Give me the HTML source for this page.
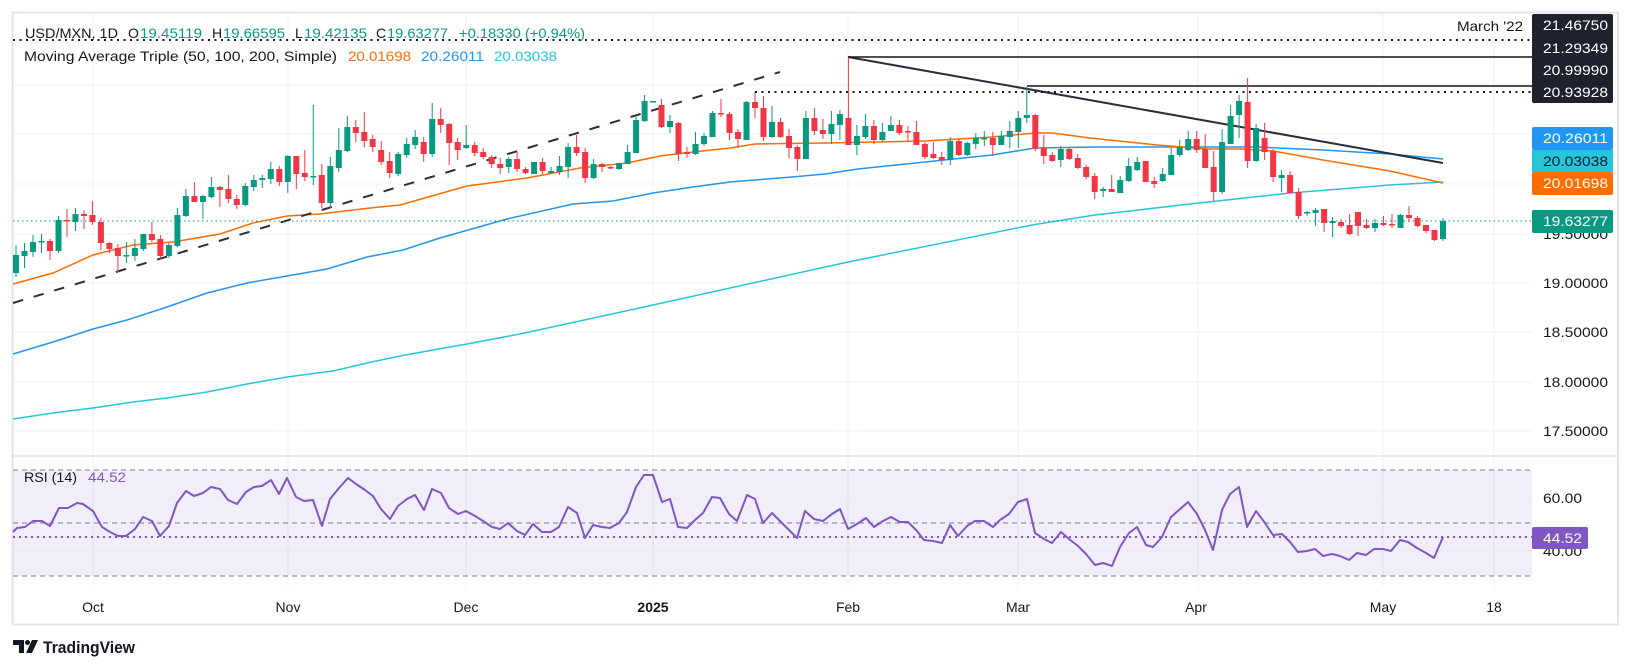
<!DOCTYPE html>
<html><head><meta charset="utf-8"><style>
html,body{margin:0;padding:0;background:#fff;}
svg{display:block;font-family:"Liberation Sans",Arial,sans-serif;}
</style></head><body>
<svg width="1631" height="671" viewBox="0 0 1631 671" xmlns="http://www.w3.org/2000/svg">
<rect x="0" y="0" width="1631" height="671" fill="#fff"/>
<!-- grid -->
<g stroke="#EEF0F4" stroke-width="1">
<line x1="93" y1="13" x2="93" y2="587"/><line x1="288" y1="13" x2="288" y2="587"/><line x1="466" y1="13" x2="466" y2="587"/><line x1="653" y1="13" x2="653" y2="587"/><line x1="848" y1="13" x2="848" y2="587"/><line x1="1018" y1="13" x2="1018" y2="587"/><line x1="1198" y1="13" x2="1198" y2="587"/><line x1="1383" y1="13" x2="1383" y2="587"/><line x1="1494" y1="13" x2="1494" y2="587"/>
<line x1="13" y1="85" x2="1532" y2="85"/><line x1="13" y1="134" x2="1532" y2="134"/><line x1="13" y1="184" x2="1532" y2="184"/><line x1="13" y1="234" x2="1532" y2="234"/><line x1="13" y1="283" x2="1532" y2="283"/><line x1="13" y1="332" x2="1532" y2="332"/><line x1="13" y1="382" x2="1532" y2="382"/><line x1="13" y1="431" x2="1532" y2="431"/>
</g>
<!-- frame -->
<rect x="12.5" y="12.5" width="1605.5" height="612" fill="none" stroke="#E3E4EA" stroke-width="2"/>
<line x1="12" y1="456" x2="1618" y2="456" stroke="#E0E3EB" stroke-width="1.5"/>

<!-- RSI pane -->
<rect x="13" y="470" width="1519" height="106" fill="#7E57C2" fill-opacity="0.1"/>
<g stroke="#EAE6F2" stroke-width="1"><line x1="13" y1="498" x2="1532" y2="498"/><line x1="13" y1="551" x2="1532" y2="551"/></g>
<g stroke="#787B86" stroke-width="1" stroke-dasharray="5 4">
<line x1="13" y1="470" x2="1532" y2="470"/><line x1="13" y1="523" x2="1532" y2="523"/><line x1="13" y1="576" x2="1532" y2="576"/>
</g>
<line x1="13" y1="537" x2="1532" y2="537" stroke="#7E57C2" stroke-width="2" stroke-dasharray="2 4"/>
<polyline fill="none" stroke="#7E57C2" stroke-width="2" stroke-linejoin="round" points="13,532 17,528 25,527 33,521 42,521 50,526 59,508 68,508 77,503 83,504 93,511 102,527 110,532 118,536 126,536 135,529 143,517 152,521 160,536 169,526 177,503 186,491 194,496 203,493 211,487 220,489 228,500 237,504 246,492 254,487 262,486 271,480 279,494 287,478 296,497 304,501 313,500 322,526 330,499 339,488 348,478 356,484 365,490 373,496 381,509 390,519 398,506 407,499 415,495 424,510 432,489 441,493 449,508 458,514 466,511 475,516 483,521 492,527 500,529 508,523 517,531 525,535 533,524 542,532 551,532 559,527 568,507 577,513 585,538 593,525 602,527 610,528 619,523 627,512 636,487 644,475 653,475 662,502 670,499 678,527 687,528 695,520 703,513 712,497 720,498 729,514 737,521 747,495 755,499 763,523 772,513 780,521 788,529 797,538 805,511 814,519 823,521 832,514 840,509 848,529 857,524 866,518 874,527 883,521 891,517 900,522 908,522 917,531 924,540 933,541 942,543 950,525 958,536 967,526 975,521 984,521 993,527 1000,520 1009,514 1018,502 1027,499 1035,533 1044,539 1052,543 1061,532 1069,539 1078,546 1086,554 1095,565 1103,563 1112,566 1120,547 1129,533 1137,527 1146,545 1153,547 1162,537 1171,517 1179,510 1188,502 1197,514 1205,530 1213,550 1222,510 1230,494 1239,487 1247,527 1256,511 1265,523 1273,535 1282,534 1290,542 1298,552 1307,551 1315,549 1323,556 1332,554 1340,556 1349,560 1357,553 1366,555 1374,549 1383,549 1391,551 1400,540 1408,542 1417,548 1426,553 1434,558 1443,537"/>
<text x="24" y="482" font-size="14" fill="#131722" textLength="53" lengthAdjust="spacingAndGlyphs">RSI (14)</text>
<text x="88" y="482" font-size="14" fill="#7E57C2" textLength="38" lengthAdjust="spacingAndGlyphs">44.52</text>

<!-- MAs -->
<polyline fill="none" stroke="#26C6DA" stroke-width="1.5" points="13,419 53,413 93,408 133,402 167,398 207,392 247,384 287,377 333,371 367,363 400,356 433,350 467,344 520,334 653,305 848,262 1032,225 1095,215 1190,204 1290,193 1390,185 1443,182"/>
<polyline fill="none" stroke="#2196F3" stroke-width="1.5" points="13,354 53,342 93,329 127,320 167,307 207,293 247,283 287,276 327,269 367,257 403,250 440,238 507,219 573,204 613,201 653,193 693,187 730,182 792,177 825,174 858,169 925,162 992,155 1035,148 1095,147 1190,147 1257,147 1323,150 1390,154 1443,159"/>
<polyline fill="none" stroke="#FF6D00" stroke-width="1.5" points="13,284 53,273 93,255 133,245 173,242 220,234 253,223 287,216 320,214 370,208 400,205 467,186 527,178 580,168 627,163 660,156 693,152 730,148 755,144 825,143 925,141 992,137 1035,133 1052,133 1090,138 1157,145 1207,149 1240,149 1273,151 1323,160 1390,171 1443,183"/>

<!-- drawings -->
<line x1="13" y1="303" x2="780" y2="72" stroke="#2A2E39" stroke-width="2" stroke-dasharray="10.5 11"/>
<line x1="848" y1="57" x2="1443" y2="163" stroke="#2A2E39" stroke-width="2"/>
<line x1="13" y1="40" x2="1532" y2="40" stroke="#131722" stroke-width="2" stroke-dasharray="2 4.5"/>
<line x1="848" y1="57" x2="1532" y2="57" stroke="#131722" stroke-width="1.5"/>
<line x1="1027" y1="86" x2="1532" y2="86" stroke="#131722" stroke-width="1.5"/>
<line x1="755" y1="92" x2="1532" y2="92" stroke="#131722" stroke-width="2" stroke-dasharray="2 4.5"/>
<line x1="13" y1="221" x2="1532" y2="221" stroke="#089981" stroke-width="1" stroke-dasharray="1.5 3"/>

<!-- green candles -->
<g fill="#089981">
<rect x="15.5" y="245" width="1" height="32"/><rect x="13" y="255" width="6" height="18"/>
<rect x="24" y="243" width="1" height="25"/><rect x="21.5" y="251" width="6" height="5"/>
<rect x="32.5" y="235" width="1" height="22"/><rect x="30" y="242" width="6" height="10"/>
<rect x="41" y="234" width="1" height="19"/><rect x="38.5" y="241" width="6" height="1.5"/>
<rect x="58" y="216" width="1" height="37"/><rect x="55.5" y="220" width="6" height="31"/>
<rect x="75" y="208" width="1" height="23"/><rect x="72.5" y="214" width="6" height="8"/>
<rect x="125.9" y="242" width="1" height="21"/><rect x="123.4" y="255" width="6" height="1.5"/>
<rect x="134.4" y="239" width="1" height="22"/><rect x="131.9" y="248" width="6" height="8"/>
<rect x="142.9" y="234" width="1" height="17"/><rect x="140.4" y="234" width="6" height="15"/>
<rect x="168.4" y="243" width="1" height="15"/><rect x="165.9" y="245" width="6" height="11"/>
<rect x="176.9" y="208" width="1" height="39"/><rect x="174.4" y="215" width="6" height="31"/>
<rect x="185.4" y="189" width="1" height="28"/><rect x="182.9" y="196" width="6" height="20"/>
<rect x="202.4" y="195" width="1" height="24"/><rect x="199.9" y="196" width="6" height="6"/>
<rect x="210.9" y="177" width="1" height="21"/><rect x="208.4" y="187" width="6" height="10"/>
<rect x="244.8" y="183" width="1" height="23"/><rect x="242.3" y="186" width="6" height="19"/>
<rect x="253.3" y="175" width="1" height="16"/><rect x="250.8" y="180" width="6" height="7"/>
<rect x="261.8" y="175" width="1" height="13"/><rect x="259.3" y="178" width="6" height="2"/>
<rect x="270.3" y="162" width="1" height="22"/><rect x="267.8" y="169" width="6" height="10"/>
<rect x="287.3" y="155" width="1" height="38"/><rect x="284.8" y="156" width="6" height="26"/>
<rect x="312.8" y="105" width="1" height="80"/><rect x="310.3" y="176" width="6" height="1.5"/>
<rect x="329.8" y="157" width="1" height="51"/><rect x="327.3" y="166" width="6" height="37"/>
<rect x="338.3" y="128" width="1" height="44"/><rect x="335.8" y="150" width="6" height="18"/>
<rect x="346.8" y="116" width="1" height="36"/><rect x="344.3" y="127" width="6" height="24"/>
<rect x="397.7" y="152" width="1" height="24"/><rect x="395.2" y="154" width="6" height="20"/>
<rect x="406.2" y="138" width="1" height="20"/><rect x="403.7" y="144" width="6" height="11"/>
<rect x="414.7" y="130" width="1" height="19"/><rect x="412.2" y="137" width="6" height="8"/>
<rect x="431.7" y="103" width="1" height="54"/><rect x="429.2" y="119" width="6" height="35"/>
<rect x="465.7" y="125" width="1" height="24"/><rect x="463.2" y="145" width="6" height="3"/>
<rect x="508.2" y="157" width="1" height="16"/><rect x="505.7" y="159" width="6" height="8"/>
<rect x="533.6" y="162" width="1" height="12"/><rect x="531.1" y="162" width="6" height="12"/>
<rect x="550.6" y="167" width="1" height="7"/><rect x="548.1" y="171" width="6" height="2"/>
<rect x="559.1" y="156" width="1" height="19"/><rect x="556.6" y="166" width="6" height="6"/>
<rect x="567.6" y="143" width="1" height="35"/><rect x="565.1" y="147" width="6" height="20"/>
<rect x="593.1" y="159" width="1" height="20"/><rect x="590.6" y="164" width="6" height="14"/>
<rect x="618.6" y="163" width="1" height="7"/><rect x="616.1" y="163" width="6" height="6"/>
<rect x="627.1" y="145" width="1" height="19"/><rect x="624.6" y="152" width="6" height="12"/>
<rect x="635.6" y="116" width="1" height="37"/><rect x="633.1" y="120" width="6" height="33"/>
<rect x="644.1" y="95" width="1" height="27"/><rect x="641.6" y="101" width="6" height="20"/>
<rect x="650.1" y="101" width="6" height="1.5"/>
<rect x="669.5" y="115" width="1" height="18"/><rect x="667" y="121" width="6" height="6"/>
<rect x="695" y="132" width="1" height="23"/><rect x="692.5" y="144" width="6" height="10"/>
<rect x="703.5" y="133" width="1" height="13"/><rect x="701" y="136" width="6" height="8"/>
<rect x="712" y="111" width="1" height="26"/><rect x="709.5" y="113" width="6" height="24"/>
<rect x="746" y="101" width="1" height="39"/><rect x="743.5" y="102" width="6" height="38"/>
<rect x="771.5" y="106" width="1" height="32"/><rect x="769" y="122" width="6" height="15"/>
<rect x="805.4" y="111" width="1" height="48"/><rect x="802.9" y="118" width="6" height="41"/>
<rect x="830.9" y="111" width="1" height="33"/><rect x="828.4" y="124" width="6" height="10"/>
<rect x="839.4" y="110" width="1" height="30"/><rect x="836.9" y="114" width="6" height="11"/>
<rect x="856.4" y="125" width="1" height="30"/><rect x="853.9" y="136" width="6" height="9"/>
<rect x="864.9" y="114" width="1" height="25"/><rect x="862.4" y="126" width="6" height="11"/>
<rect x="881.9" y="123" width="1" height="19"/><rect x="879.4" y="132" width="6" height="8"/>
<rect x="890.4" y="116" width="1" height="15"/><rect x="887.9" y="125" width="6" height="6"/>
<rect x="949.8" y="137" width="1" height="28"/><rect x="947.3" y="141" width="6" height="19"/>
<rect x="966.8" y="142" width="1" height="14"/><rect x="964.3" y="143" width="6" height="12"/>
<rect x="975.3" y="133" width="1" height="16"/><rect x="972.8" y="138" width="6" height="6"/>
<rect x="983.8" y="131" width="1" height="15"/><rect x="981.3" y="138" width="6" height="1.5"/>
<rect x="1000.8" y="131" width="1" height="14"/><rect x="998.3" y="136" width="6" height="9"/>
<rect x="1009.3" y="121" width="1" height="27"/><rect x="1006.8" y="131" width="6" height="6"/>
<rect x="1017.8" y="111" width="1" height="37"/><rect x="1015.3" y="118" width="6" height="14"/>
<rect x="1026.3" y="87" width="1" height="36"/><rect x="1023.8" y="115" width="6" height="3"/>
<rect x="1060.3" y="146" width="1" height="21"/><rect x="1057.8" y="149" width="6" height="11"/>
<rect x="1102.7" y="187" width="1" height="10"/><rect x="1100.2" y="189" width="6" height="2"/>
<rect x="1119.7" y="176" width="1" height="17"/><rect x="1117.2" y="180" width="6" height="13"/>
<rect x="1128.2" y="158" width="1" height="24"/><rect x="1125.7" y="166" width="6" height="15"/>
<rect x="1136.7" y="157" width="1" height="14"/><rect x="1134.2" y="162" width="6" height="8"/>
<rect x="1162.2" y="168" width="1" height="14"/><rect x="1159.7" y="174" width="6" height="7"/>
<rect x="1170.7" y="148" width="1" height="27"/><rect x="1168.2" y="155" width="6" height="20"/>
<rect x="1179.2" y="140" width="1" height="17"/><rect x="1176.7" y="147" width="6" height="8"/>
<rect x="1187.7" y="131" width="1" height="20"/><rect x="1185.2" y="139" width="6" height="11"/>
<rect x="1221.6" y="129" width="1" height="65"/><rect x="1219.1" y="142" width="6" height="50"/>
<rect x="1230.1" y="105" width="1" height="39"/><rect x="1227.6" y="116" width="6" height="28"/>
<rect x="1238.6" y="95" width="1" height="43"/><rect x="1236.1" y="101" width="6" height="14"/>
<rect x="1255.6" y="124" width="1" height="38"/><rect x="1253.1" y="128" width="6" height="33"/>
<rect x="1281.1" y="170" width="1" height="22"/><rect x="1278.6" y="175" width="6" height="3"/>
<rect x="1306.6" y="211" width="1" height="5"/><rect x="1304.1" y="212" width="6" height="1.5"/>
<rect x="1315.1" y="208" width="1" height="18"/><rect x="1312.6" y="210" width="6" height="3"/>
<rect x="1332.1" y="217" width="1" height="20"/><rect x="1329.6" y="221" width="6" height="2"/>
<rect x="1374.5" y="219" width="1" height="13"/><rect x="1372" y="223" width="6" height="5"/>
<rect x="1400" y="214" width="1" height="14"/><rect x="1397.5" y="215" width="6" height="13"/>
<rect x="1442.5" y="218" width="1" height="23"/><rect x="1440" y="221" width="6" height="18"/>
</g>
<!-- red candles -->
<g fill="#F23645">
<rect x="49.5" y="239" width="1" height="21"/><rect x="47" y="241" width="6" height="10"/>
<rect x="66.5" y="209" width="1" height="28"/><rect x="64" y="220" width="6" height="1.5"/>
<rect x="83.5" y="210" width="1" height="19"/><rect x="81" y="214" width="6" height="2"/>
<rect x="91.9" y="201" width="1" height="24"/><rect x="89.4" y="215" width="6" height="7"/>
<rect x="100.4" y="218" width="1" height="32"/><rect x="97.9" y="222" width="6" height="21"/>
<rect x="108.9" y="242" width="1" height="11"/><rect x="106.4" y="243" width="6" height="6"/>
<rect x="117.4" y="244" width="1" height="28"/><rect x="114.9" y="248" width="6" height="8"/>
<rect x="151.4" y="222" width="1" height="20"/><rect x="148.9" y="234" width="6" height="6"/>
<rect x="159.9" y="235" width="1" height="25"/><rect x="157.4" y="239" width="6" height="17"/>
<rect x="193.9" y="182" width="1" height="20"/><rect x="191.4" y="196" width="6" height="6"/>
<rect x="219.4" y="186" width="1" height="21"/><rect x="216.9" y="187" width="6" height="3"/>
<rect x="227.9" y="175" width="1" height="28"/><rect x="225.4" y="189" width="6" height="10"/>
<rect x="236.3" y="195" width="1" height="14"/><rect x="233.8" y="199" width="6" height="6"/>
<rect x="278.8" y="166" width="1" height="20"/><rect x="276.3" y="169" width="6" height="13"/>
<rect x="295.8" y="156" width="1" height="33"/><rect x="293.3" y="156" width="6" height="18"/>
<rect x="304.3" y="150" width="1" height="31"/><rect x="301.8" y="173" width="6" height="4"/>
<rect x="321.3" y="164" width="1" height="44"/><rect x="318.8" y="175" width="6" height="28"/>
<rect x="355.3" y="120" width="1" height="22"/><rect x="352.8" y="127" width="6" height="6"/>
<rect x="363.8" y="112" width="1" height="35"/><rect x="361.3" y="132" width="6" height="9"/>
<rect x="372.2" y="135" width="1" height="17"/><rect x="369.7" y="139" width="6" height="8"/>
<rect x="380.7" y="141" width="1" height="24"/><rect x="378.2" y="150" width="6" height="12"/>
<rect x="389.2" y="152" width="1" height="26"/><rect x="386.7" y="161" width="6" height="12"/>
<rect x="423.2" y="137" width="1" height="25"/><rect x="420.7" y="142" width="6" height="12"/>
<rect x="440.2" y="108" width="1" height="25"/><rect x="437.7" y="119" width="6" height="6"/>
<rect x="448.7" y="123" width="1" height="42"/><rect x="446.2" y="124" width="6" height="19"/>
<rect x="457.2" y="138" width="1" height="22"/><rect x="454.7" y="142" width="6" height="8"/>
<rect x="474.2" y="142" width="1" height="14"/><rect x="471.7" y="145" width="6" height="8"/>
<rect x="482.7" y="148" width="1" height="11"/><rect x="480.2" y="152" width="6" height="5"/>
<rect x="491.2" y="155" width="1" height="13"/><rect x="488.7" y="157" width="6" height="7"/>
<rect x="499.7" y="158" width="1" height="16"/><rect x="497.2" y="164" width="6" height="4"/>
<rect x="516.6" y="152" width="1" height="20"/><rect x="514.1" y="159" width="6" height="10"/>
<rect x="525.1" y="167" width="1" height="7"/><rect x="522.6" y="169" width="6" height="4"/>
<rect x="542.1" y="158" width="1" height="16"/><rect x="539.6" y="162" width="6" height="9"/>
<rect x="576.1" y="135" width="1" height="21"/><rect x="573.6" y="147" width="6" height="6"/>
<rect x="584.6" y="148" width="1" height="35"/><rect x="582.1" y="152" width="6" height="26"/>
<rect x="601.6" y="163" width="1" height="9"/><rect x="599.1" y="164" width="6" height="3"/>
<rect x="610.1" y="166" width="1" height="3"/><rect x="607.6" y="167" width="6" height="1.5"/>
<rect x="661" y="99" width="1" height="29"/><rect x="658.5" y="105" width="6" height="22"/>
<rect x="678" y="122" width="1" height="39"/><rect x="675.5" y="123" width="6" height="31"/>
<rect x="686.5" y="147" width="1" height="11"/><rect x="684" y="152" width="6" height="2"/>
<rect x="720.5" y="99" width="1" height="18"/><rect x="718" y="113" width="6" height="1.5"/>
<rect x="729" y="112" width="1" height="28"/><rect x="726.5" y="114" width="6" height="19"/>
<rect x="737.5" y="129" width="1" height="19"/><rect x="735" y="132" width="6" height="7"/>
<rect x="754.5" y="92" width="1" height="26"/><rect x="752" y="102" width="6" height="6"/>
<rect x="763" y="96" width="1" height="45"/><rect x="760.5" y="108" width="6" height="29"/>
<rect x="780" y="118" width="1" height="20"/><rect x="777.5" y="122" width="6" height="15"/>
<rect x="788.5" y="129" width="1" height="29"/><rect x="786" y="136" width="6" height="12"/>
<rect x="796.9" y="145" width="1" height="26"/><rect x="794.4" y="147" width="6" height="12"/>
<rect x="813.9" y="108" width="1" height="27"/><rect x="811.4" y="118" width="6" height="13"/>
<rect x="822.4" y="119" width="1" height="20"/><rect x="819.9" y="130" width="6" height="4"/>
<rect x="847.9" y="57" width="1" height="88"/><rect x="845.4" y="118" width="6" height="27"/>
<rect x="873.4" y="120" width="1" height="24"/><rect x="870.9" y="126" width="6" height="14"/>
<rect x="898.9" y="120" width="1" height="15"/><rect x="896.4" y="125" width="6" height="8"/>
<rect x="907.4" y="126" width="1" height="16"/><rect x="904.9" y="131" width="6" height="1.5"/>
<rect x="915.9" y="121" width="1" height="24"/><rect x="913.4" y="132" width="6" height="13"/>
<rect x="924.4" y="142" width="1" height="17"/><rect x="921.9" y="144" width="6" height="13"/>
<rect x="932.9" y="142" width="1" height="17"/><rect x="930.4" y="154" width="6" height="4"/>
<rect x="941.3" y="152" width="1" height="13"/><rect x="938.8" y="157" width="6" height="3"/>
<rect x="958.3" y="139" width="1" height="17"/><rect x="955.8" y="141" width="6" height="14"/>
<rect x="992.3" y="132" width="1" height="24"/><rect x="989.8" y="138" width="6" height="7"/>
<rect x="1034.8" y="114" width="1" height="37"/><rect x="1032.3" y="115" width="6" height="34"/>
<rect x="1043.3" y="135" width="1" height="29"/><rect x="1040.8" y="148" width="6" height="8"/>
<rect x="1051.8" y="152" width="1" height="10"/><rect x="1049.3" y="155" width="6" height="6"/>
<rect x="1068.8" y="148" width="1" height="12"/><rect x="1066.3" y="149" width="6" height="10"/>
<rect x="1077.3" y="154" width="1" height="15"/><rect x="1074.8" y="158" width="6" height="10"/>
<rect x="1085.7" y="165" width="1" height="14"/><rect x="1083.2" y="167" width="6" height="10"/>
<rect x="1094.2" y="173" width="1" height="26"/><rect x="1091.7" y="176" width="6" height="16"/>
<rect x="1111.2" y="175" width="1" height="17"/><rect x="1108.7" y="189" width="6" height="3"/>
<rect x="1145.2" y="161" width="1" height="21"/><rect x="1142.7" y="161" width="6" height="21"/>
<rect x="1153.7" y="177" width="1" height="11"/><rect x="1151.2" y="181" width="6" height="3"/>
<rect x="1196.2" y="131" width="1" height="22"/><rect x="1193.7" y="139" width="6" height="11"/>
<rect x="1204.7" y="134" width="1" height="34"/><rect x="1202.2" y="149" width="6" height="19"/>
<rect x="1213.2" y="151" width="1" height="50"/><rect x="1210.7" y="167" width="6" height="25"/>
<rect x="1247.1" y="78" width="1" height="90"/><rect x="1244.6" y="102" width="6" height="59"/>
<rect x="1264.1" y="123" width="1" height="37"/><rect x="1261.6" y="138" width="6" height="14"/>
<rect x="1272.6" y="149" width="1" height="33"/><rect x="1270.1" y="151" width="6" height="26"/>
<rect x="1289.6" y="171" width="1" height="22"/><rect x="1287.1" y="175" width="6" height="18"/>
<rect x="1298.1" y="188" width="1" height="31"/><rect x="1295.6" y="192" width="6" height="24"/>
<rect x="1323.6" y="209" width="1" height="23"/><rect x="1321.1" y="209" width="6" height="14"/>
<rect x="1340.6" y="219" width="1" height="9"/><rect x="1338.1" y="222" width="6" height="4"/>
<rect x="1349.1" y="214" width="1" height="21"/><rect x="1346.6" y="225" width="6" height="9"/>
<rect x="1357.5" y="212" width="1" height="24"/><rect x="1355" y="212" width="6" height="14"/>
<rect x="1366" y="219" width="1" height="10"/><rect x="1363.5" y="225" width="6" height="3"/>
<rect x="1383" y="216" width="1" height="10"/><rect x="1380.5" y="223" width="6" height="2"/>
<rect x="1391.5" y="214" width="1" height="14"/><rect x="1389" y="224" width="6" height="1.5"/>
<rect x="1408.5" y="206" width="1" height="16"/><rect x="1406" y="215" width="6" height="3"/>
<rect x="1417" y="216" width="1" height="11"/><rect x="1414.5" y="218" width="6" height="8"/>
<rect x="1425.5" y="225" width="1" height="8"/><rect x="1423" y="225" width="6" height="6"/>
<rect x="1434" y="230" width="1" height="11"/><rect x="1431.5" y="230" width="6" height="10"/>
</g>

<!-- legend -->
<g font-size="14" fill="#131722">
<text x="25" y="38" textLength="93" lengthAdjust="spacingAndGlyphs">USD/MXN, 1D</text>
<text x="128" y="38">O</text>
<text x="140" y="38" fill="#089981" textLength="62" lengthAdjust="spacingAndGlyphs">19.45119</text>
<text x="212" y="38">H</text>
<text x="223" y="38" fill="#089981" textLength="62" lengthAdjust="spacingAndGlyphs">19.66595</text>
<text x="295" y="38">L</text>
<text x="304" y="38" fill="#089981" textLength="63" lengthAdjust="spacingAndGlyphs">19.42135</text>
<text x="376" y="38">C</text>
<text x="387" y="38" fill="#089981" textLength="61" lengthAdjust="spacingAndGlyphs">19.63277</text>
<text x="459" y="38" fill="#089981" textLength="126" lengthAdjust="spacingAndGlyphs">+0.18330 (+0.94%)</text>
<text x="24" y="61" textLength="313" lengthAdjust="spacingAndGlyphs">Moving Average Triple (50, 100, 200, Simple)</text>
<text x="348" y="61" fill="#FF6D00" textLength="63" lengthAdjust="spacingAndGlyphs">20.01698</text>
<text x="421" y="61" fill="#2196F3" textLength="63" lengthAdjust="spacingAndGlyphs">20.26011</text>
<text x="494" y="61" fill="#26C6DA" textLength="63" lengthAdjust="spacingAndGlyphs">20.03038</text>
<text x="1457" y="31" textLength="66" lengthAdjust="spacingAndGlyphs">March '22</text>
</g>

<!-- price axis -->
<g font-size="14" fill="#131722">
<text x="1543" y="239" textLength="65" lengthAdjust="spacingAndGlyphs">19.50000</text>
<text x="1543" y="288" textLength="65" lengthAdjust="spacingAndGlyphs">19.00000</text>
<text x="1543" y="337" textLength="65" lengthAdjust="spacingAndGlyphs">18.50000</text>
<text x="1543" y="387" textLength="65" lengthAdjust="spacingAndGlyphs">18.00000</text>
<text x="1543" y="436" textLength="65" lengthAdjust="spacingAndGlyphs">17.50000</text>
<text x="1543" y="503" textLength="39" lengthAdjust="spacingAndGlyphs">60.00</text>
<text x="1543" y="556" textLength="39" lengthAdjust="spacingAndGlyphs">40.00</text>
</g>
<rect x="1532" y="14" width="81" height="89" rx="2" fill="#1E222D"/>
<rect x="1532" y="127" width="81" height="23" rx="2" fill="#2196F3"/>
<rect x="1532" y="150" width="81" height="22" fill="#26C6DA"/>
<rect x="1532" y="172" width="81" height="23" rx="2" fill="#FF6D00"/>
<rect x="1532" y="210" width="81" height="23" rx="2" fill="#089981"/>
<rect x="1532" y="527" width="56" height="22" rx="2" fill="#7E57C2"/>
<g font-size="14" fill="#fff">
<text x="1543" y="30" textLength="65" lengthAdjust="spacingAndGlyphs">21.46750</text>
<text x="1543" y="53" textLength="65" lengthAdjust="spacingAndGlyphs">21.29349</text>
<text x="1543" y="75" textLength="65" lengthAdjust="spacingAndGlyphs">20.99990</text>
<text x="1543" y="97" textLength="65" lengthAdjust="spacingAndGlyphs">20.93928</text>
<text x="1543" y="143" textLength="65" lengthAdjust="spacingAndGlyphs">20.26011</text>
<text x="1543" y="166" fill="#131722" textLength="65" lengthAdjust="spacingAndGlyphs">20.03038</text>
<text x="1543" y="188" textLength="65" lengthAdjust="spacingAndGlyphs">20.01698</text>
<text x="1543" y="226" textLength="65" lengthAdjust="spacingAndGlyphs">19.63277</text>
<text x="1543" y="543" textLength="39" lengthAdjust="spacingAndGlyphs">44.52</text>
</g>

<!-- time axis -->
<g font-size="14" fill="#131722" text-anchor="middle">
<text x="93" y="612">Oct</text>
<text x="288" y="612">Nov</text>
<text x="466" y="612">Dec</text>
<text x="653" y="612" font-weight="bold">2025</text>
<text x="848" y="612">Feb</text>
<text x="1018" y="612">Mar</text>
<text x="1196" y="612">Apr</text>
<text x="1383" y="612">May</text>
<text x="1494" y="612">18</text>
</g>

<!-- TradingView logo -->
<g fill="#131722">
<path d="M13 640 h11 v13 h-5 v-8 h-6 z"/>
<circle cx="27.5" cy="642.5" r="2.5"/>
<path d="M32 640 h6 l-6 13 h-6 z"/>
<text x="43" y="653" font-size="17" font-weight="bold" textLength="92" lengthAdjust="spacingAndGlyphs">TradingView</text>
</g>
</svg>
</body></html>
